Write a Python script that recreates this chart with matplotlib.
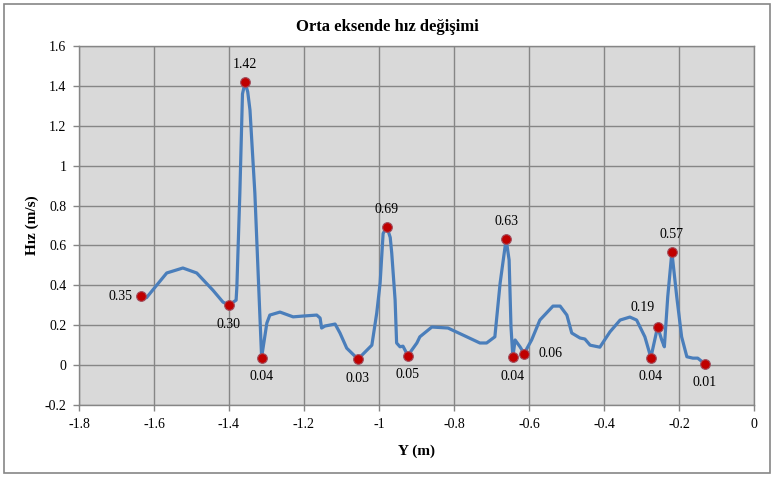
import numpy as np
import matplotlib
matplotlib.use("Agg")
import matplotlib.pyplot as plt
from matplotlib.patches import Rectangle
from matplotlib.ticker import FuncFormatter, MultipleLocator

plt.rcParams['font.family'] = ['Liberation Serif', 'DejaVu Serif']

# velocity profile along the middle axis
y_pos = [-1.635, -1.620, -1.597, -1.566, -1.523, -1.486, -1.443, -1.416, -1.400,
         -1.381, -1.379, -1.371, -1.364, -1.357, -1.350, -1.344, -1.331, -1.313,
         -1.299, -1.291, -1.264, -1.229, -1.203, -1.166, -1.157, -1.153, -1.144,
         -1.117, -1.104, -1.086, -1.056, -1.019, -1.006, -0.997, -0.989, -0.979,
         -0.970, -0.966, -0.957, -0.953, -0.944, -0.936, -0.923, -0.899, -0.891,
         -0.859, -0.816, -0.766, -0.731, -0.713, -0.691, -0.677, -0.661, -0.653,
         -0.648, -0.643, -0.637, -0.624, -0.613, -0.593, -0.571, -0.536, -0.517,
         -0.499, -0.486, -0.464, -0.451, -0.437, -0.411, -0.384, -0.357, -0.331,
         -0.313, -0.291, -0.275, -0.257, -0.246, -0.239, -0.230, -0.219, -0.206,
         -0.193, -0.179, -0.163, -0.150, -0.131]
speed = [0.346, 0.338, 0.391, 0.462, 0.487, 0.462, 0.376, 0.316, 0.301,
         0.326, 0.391, 0.863, 1.360, 1.418, 1.370, 1.279, 0.863, 0.038,
         0.211, 0.251, 0.266, 0.242, 0.246, 0.251, 0.236, 0.186, 0.196,
         0.206, 0.161, 0.085, 0.030, 0.100, 0.261, 0.411, 0.660, 0.693,
         0.640, 0.562, 0.326, 0.111, 0.092, 0.095, 0.048, 0.111, 0.142,
         0.191, 0.186, 0.142, 0.111, 0.111, 0.142, 0.411, 0.632, 0.527,
         0.192, 0.040, 0.126, 0.092, 0.058, 0.126, 0.226, 0.296, 0.296,
         0.251, 0.161, 0.136, 0.131, 0.100, 0.090, 0.167, 0.226, 0.241,
         0.226, 0.142, 0.038, 0.192, 0.126, 0.092, 0.343, 0.567, 0.343,
         0.142, 0.042, 0.035, 0.035, 0.006]

# highlighted points (peaks and troughs) and where their labels sit
mark_x = [-1.635, -1.400, -1.357, -1.313, -1.056, -0.979, -0.923, -0.661,
          -0.643, -0.613, -0.275, -0.257, -0.219, -0.131]
mark_y = [0.346, 0.301, 1.418, 0.038, 0.030, 0.693, 0.048, 0.632,
          0.040, 0.058, 0.038, 0.192, 0.567, 0.006]
label_side = ['left', 'below', 'above', 'below', 'below', 'above', 'below', 'above',
              'below', 'right', 'below', 'aboveleft', 'above', 'below']

fig = plt.figure(figsize=(7.75, 4.78), dpi=100)
ax = fig.add_axes([0.1019, 0.1527, 0.871, 0.751])

fig.patches.append(Rectangle((4 / 775, 5 / 478), 766 / 775, 469 / 478,
                             transform=fig.transFigure, fill=False,
                             edgecolor='#868686', linewidth=1.2))

ax.set_facecolor('#D9D9D9')
ax.plot(y_pos, speed, color='#4A7EBB', linewidth=2.3, solid_joinstyle='round',
        solid_capstyle='round', zorder=3)
ax.plot(mark_x, mark_y, linestyle='none', marker='o', markersize=7,
        markerfacecolor='#C00000', markeredgecolor='#A05060',
        markeredgewidth=0.8, zorder=4)

offsets = {'left': (-6, 0, 'right', 'center'),
           'right': (10, 0, 'left', 'center'),
           'above': (0, 8, 'center', 'bottom'),
           'below': (0, -9, 'center', 'top'),
           'aboveleft': (-11, 9, 'center', 'bottom')}
for xv, yv, side in zip(mark_x, mark_y, label_side):
    dx, dy, ha, va = offsets[side]
    ax.annotate(f'{yv:.2f}', (xv, yv), xytext=(dx, dy), textcoords='offset points',
                ha=ha, va=va, fontsize=10, zorder=5)

ax.set_xlim(-1.8, 0)
ax.set_ylim(-0.2, 1.6)
ax.xaxis.set_major_locator(MultipleLocator(0.2))
ax.yaxis.set_major_locator(MultipleLocator(0.2))
fmt = FuncFormatter(lambda v, p: f'{round(v, 1):g}' if abs(v) > 1e-9 else '0')
ax.xaxis.set_major_formatter(fmt)
ax.yaxis.set_major_formatter(fmt)
ax.tick_params(direction='out', length=4, width=1, color='#868686',
               labelsize=10, pad=5)
ax.grid(True, color='#868686', linewidth=1)
ax.set_axisbelow(True)
for s in ax.spines.values():
    s.set_color('#868686')
    s.set_linewidth(1)

ax.set_xlabel('Y (m)', fontsize=11, fontweight='bold', labelpad=10)
ax.set_ylabel('Hız (m/s)', fontsize=11, fontweight='bold', labelpad=4)
fig.text(0.5, 1 - 27 / 478, 'Orta eksende hız değişimi', ha='center', va='center',
         fontsize=12, fontweight='bold')

fig.savefig('out.png', dpi=100)
